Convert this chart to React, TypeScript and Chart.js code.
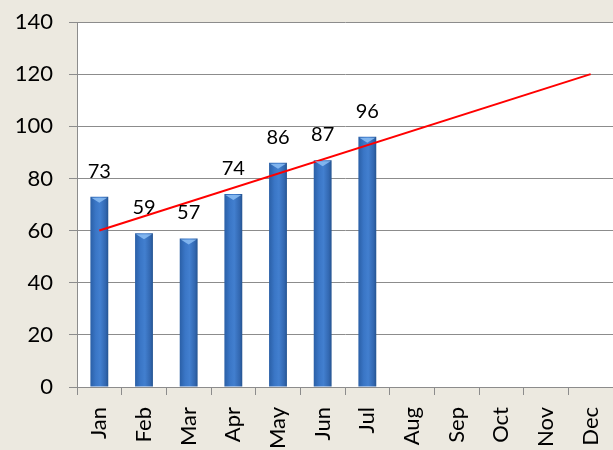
import React, { useEffect, useRef } from "react";
import { Chart, registerables } from "chart.js";

Chart.register(...registerables);

const months = ["Jan", "Feb", "Mar", "Apr", "May", "Jun", "Jul", "Aug", "Sep", "Oct", "Nov", "Dec"];
const actual = [73, 59, 57, 74, 86, 87, 96, null, null, null, null, null];
const trend = [60, null, null, null, null, null, null, null, null, null, null, 120];
const yMin = 0;
const yMax = 140;
const yStep = 20;

const FONT = "Lato, 'Open Sans', sans-serif";

const bgPlugin = {
  id: "bgPlugin",
  beforeDraw(chart: any) {
    const { ctx, chartArea } = chart;
    ctx.save();
    ctx.fillStyle = "#ECE9E0";
    ctx.fillRect(0, 0, chart.width, chart.height);
    ctx.fillStyle = "#FFFFFF";
    ctx.fillRect(chartArea.left, chartArea.top, chartArea.right - chartArea.left, chartArea.bottom - chartArea.top);
    ctx.restore();
  },
};

const barDecorPlugin = {
  id: "barDecor",
  afterDatasetsDraw(chart: any) {
    const { ctx } = chart;
    const meta = chart.getDatasetMeta(1);
    ctx.save();
    meta.data.forEach((el: any, i: number) => {
      const v = actual[i];
      if (v == null) return;
      const { x, y, width } = el.getProps(["x", "y", "width"], true);
      const left = x - width / 2;
      const right = x + width / 2;
      ctx.fillStyle = "rgba(140,190,245,0.85)";
      ctx.beginPath();
      ctx.moveTo(left + 1, y + 1);
      ctx.lineTo(right - 1, y + 1);
      ctx.lineTo(x, y + 6);
      ctx.closePath();
      ctx.fill();
    });
    ctx.fillStyle = "#000";
    ctx.font = "20px " + FONT;
    ctx.textAlign = "center";
    ctx.textBaseline = "alphabetic";
    meta.data.forEach((el: any, i: number) => {
      const v = actual[i];
      if (v == null) return;
      const { x, y } = el.getProps(["x", "y"], true);
      ctx.fillText(String(v), x, y - 19);
    });
    ctx.restore();
  },
};

function barGradient(context: any) {
  const chart = context.chart;
  const xs = chart.scales && chart.scales.x;
  if (!xs || context.dataIndex == null) return "#3A74C2";
  const cx = xs.getPixelForValue(context.dataIndex);
  if (!isFinite(cx)) return "#3A74C2";
  const w = 18;
  const g = chart.ctx.createLinearGradient(cx - w / 2, 0, cx + w / 2, 0);
  g.addColorStop(0, "#2A5FA6");
  g.addColorStop(0.3, "#3A76C6");
  g.addColorStop(0.55, "#427FCF");
  g.addColorStop(0.85, "#3267B0");
  g.addColorStop(1, "#24538F");
  return g;
}

export default function App() {
  const ref = useRef<HTMLCanvasElement>(null);
  useEffect(() => {
    document.body.style.margin = "0";
    const canvas = ref.current!;
    const chart = new Chart(canvas, {
      type: "bar",
      data: {
        labels: months,
        datasets: [
          {
            type: "line",
            data: trend as any,
            borderColor: "#FF0000",
            borderWidth: 2,
            pointRadius: 0,
            spanGaps: true,
            order: 0,
          } as any,
          {
            type: "bar",
            data: actual as any,
            backgroundColor: barGradient as any,
            borderWidth: 0,
            barPercentage: 0.4,
            categoryPercentage: 1,
            order: 1,
          } as any,
        ],
      },
      options: {
        responsive: false,
        animation: false,
        layout: { padding: { top: 22, right: 0, left: 0, bottom: 0 } },
        plugins: { legend: { display: false }, tooltip: { enabled: false } },
        scales: {
          x: {
            offset: true,
            grid: { drawOnChartArea: false, drawTicks: true, tickLength: 8, color: "#8C8C8C", offset: true },
            border: { color: "#8C8C8C", width: 1 },
            ticks: {
              color: "#000",
              font: { family: FONT, size: 22 },
              minRotation: 90,
              maxRotation: 90,
              autoSkip: false,
              padding: 12,
            },
            afterFit(scale: any) {
              scale.height = 63;
              scale.paddingLeft = 0;
              scale.paddingRight = 0;
            },
          },
          y: {
            min: yMin,
            max: yMax,
            ticks: {
              stepSize: yStep,
              color: "#000",
              font: { family: FONT, size: 22 },
              padding: 16,
            },
            grid: { color: "#8C8C8C", tickLength: 8, lineWidth: 1 },
            border: { color: "#8C8C8C", width: 1 },
            afterFit(scale: any) {
              scale.width = 77;
              scale.paddingTop = 0;
              scale.paddingBottom = 0;
            },
          },
        },
      },
      plugins: [bgPlugin, barDecorPlugin],
    });
    return () => chart.destroy();
  }, []);
  return <canvas ref={ref} width={613} height={450} style={{ display: "block" }} />;
}
